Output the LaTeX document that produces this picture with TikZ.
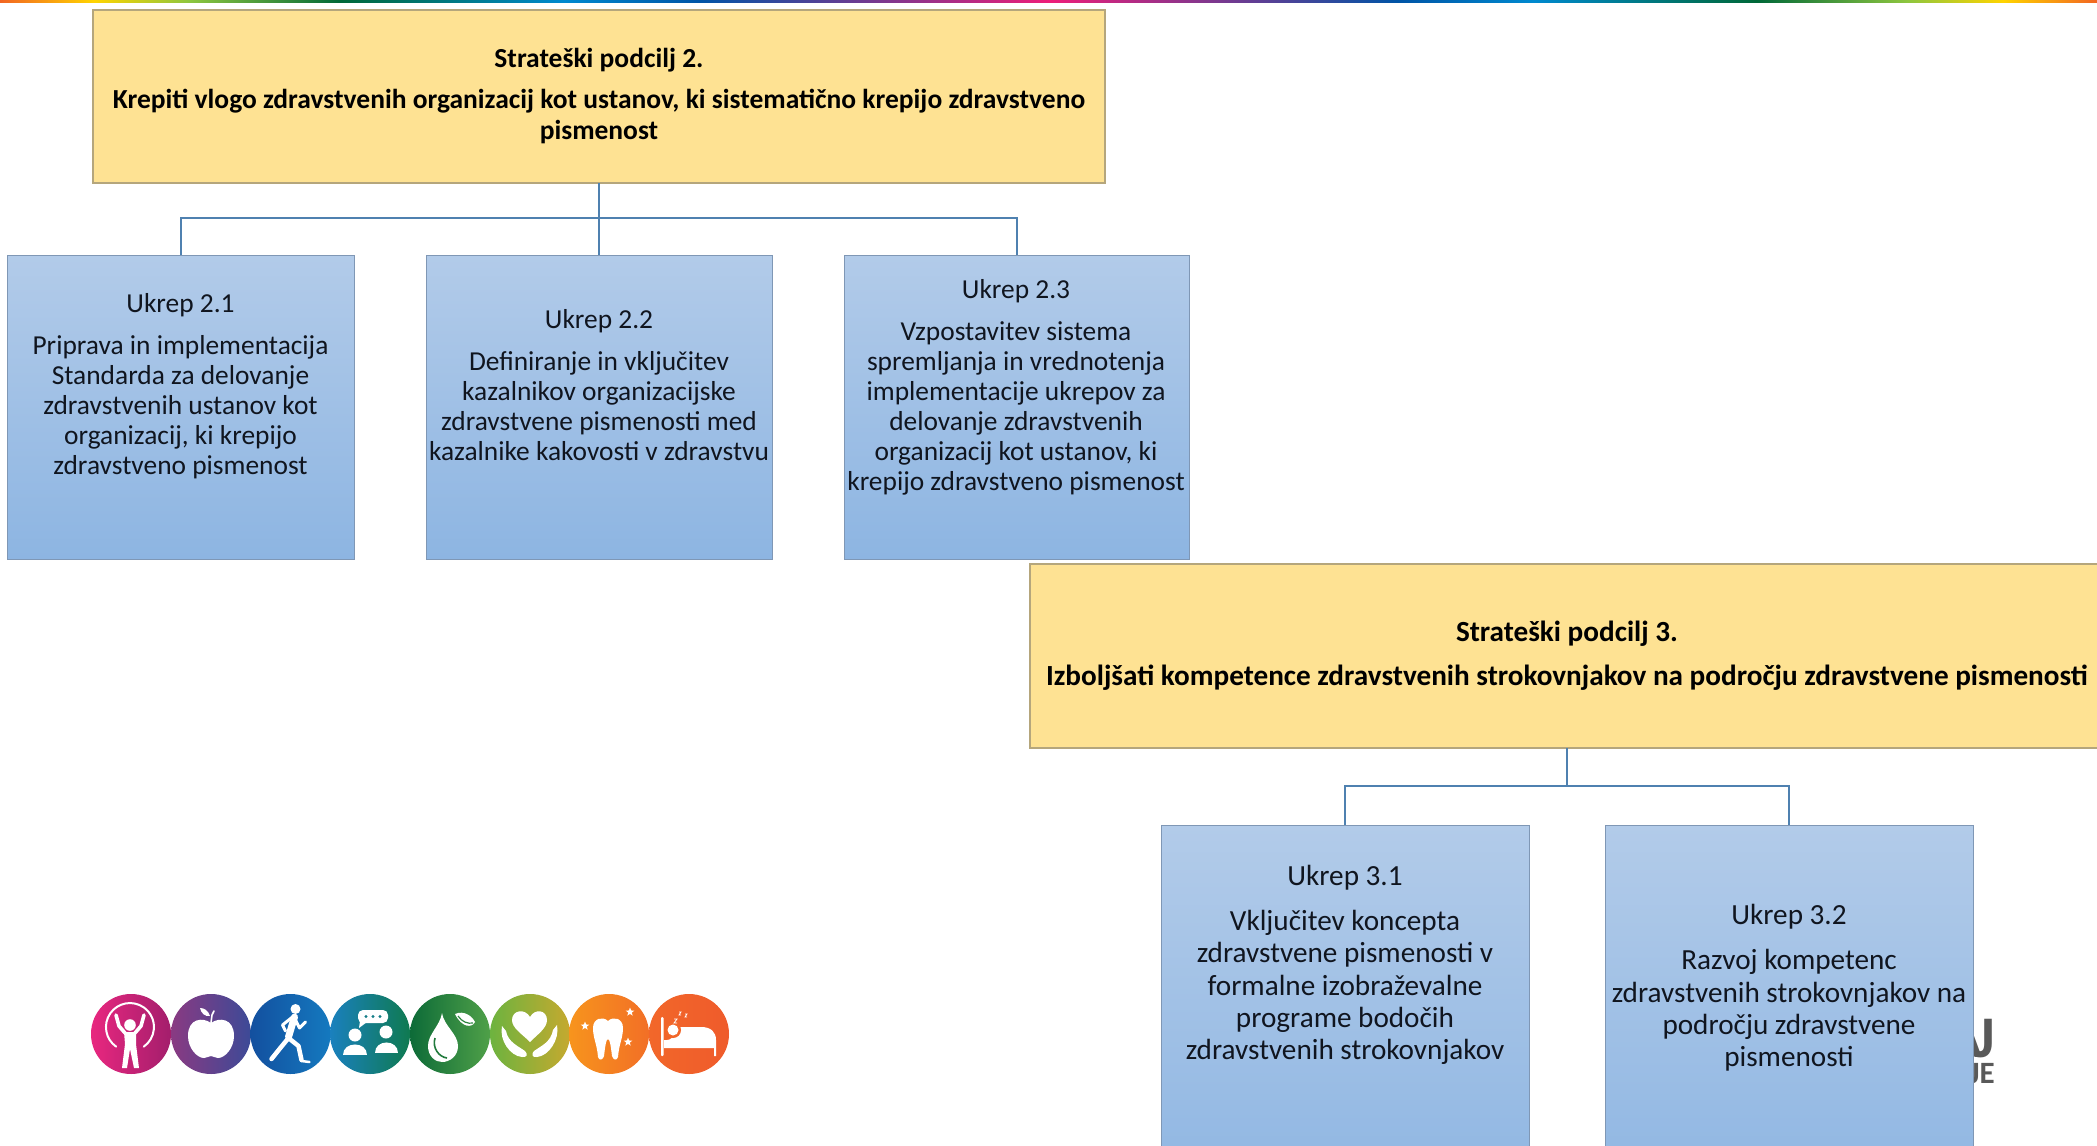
\documentclass[tikz,border=0pt]{standalone}
\usepackage{fontspec}
\setmainfont{Carlito}
\definecolor{yfill}{HTML}{FEE293}
\definecolor{yline}{HTML}{B5A67C}
\definecolor{btop}{HTML}{B2CBE9}
\definecolor{bbot}{HTML}{8DB5E2}
\definecolor{bline}{HTML}{7F97B5}
\definecolor{conn}{HTML}{4F81B0}
\definecolor{txt}{HTML}{10151F}
\tikzset{
  goalbox/.style={draw=yline,line width=1.2pt,fill=yfill,inner sep=0pt,outer sep=0pt,anchor=north west},
  goaltext/.style={align=center,text=black,inner sep=0pt},
  actbox/.style={draw=bline,line width=1pt,top color=btop,bottom color=bbot,inner sep=0pt,outer sep=0pt,anchor=north west},
  acttext/.style={align=center,text=txt,inner sep=0pt,font=\fontsize{27.4}{30}\selectfont},
  acttextb/.style={align=center,text=txt,inner sep=0pt,font=\fontsize{29.2}{32.3}\selectfont},
  connline/.style={draw=conn,line width=2pt},
  logotext/.style={anchor=base east,inner sep=0pt,text=black!65,text depth=0pt},
  ic/.style={white,line width=2pt,line cap=round,line join=round}
}
\newcommand{\istar}[2]{\fill[white,shift={(#1,#2)}] (-90:4.5)--(-54:1.9)--(-18:4.5)--(18:1.9)--(54:4.5)--(90:1.9)--(126:4.5)--(162:1.9)--(198:4.5)--(234:1.9)--cycle;}
\newcommand{\rainbowseg}[4]{\shade[left color=#3,right color=#4] (#1,0) rectangle (#2,2.2);}
\begin{document}
\begin{tikzpicture}[x=1pt,y=-1pt]
\useasboundingbox (0,0) rectangle (2097,1146);
\fill[white] (0,0) rectangle (2097,1146);
% rainbow strip
\definecolor{r1}{HTML}{F26522}\definecolor{r2}{HTML}{FFD400}\definecolor{r3}{HTML}{8DC63F}
\definecolor{r4}{HTML}{006838}\definecolor{r5}{HTML}{0089CF}\definecolor{r6}{HTML}{0054A6}\definecolor{r7}{HTML}{ED1E79}
\rainbowseg{0}{94}{r1}{r2}\rainbowseg{94}{190}{r2}{r3}\rainbowseg{190}{340}{r3}{r4}\rainbowseg{340}{564}{r4}{r5}
\rainbowseg{564}{700}{r5}{r6}\rainbowseg{700}{1049}{r6}{r7}\rainbowseg{1049}{1397}{r7}{r6}\rainbowseg{1397}{1533}{r6}{r5}
\rainbowseg{1533}{1757}{r5}{r4}\rainbowseg{1757}{1907}{r4}{r3}\rainbowseg{1907}{2003}{r3}{r2}\rainbowseg{2003}{2097}{r2}{r1}
% logo fragments behind box 3.2
\node[logotext,font=\fontsize{59}{59}\selectfont\bfseries] (logoa) at (1995,1057) {A\kern-7pt J};
\node[logotext,font=\fontsize{31}{31}\selectfont\bfseries] (logob) at (1995,1083) {JE};
% goal boxes
\node[goalbox,minimum width=1012pt,minimum height=173pt] (g2) at (93,10) {};
\node[goalbox,minimum width=1074pt,minimum height=184pt] (g3) at (1030,564) {};
\node[goaltext,font=\fontsize{27.5}{31}\selectfont\bfseries] (gt2) at (599,96.5)
  {Strateški podcilj 2.\\[10pt]Krepiti vlogo zdravstvenih organizacij kot ustanov, ki sistematično krepijo zdravstveno\\pismenost};
\node[goaltext,font=\fontsize{29.2}{31}\selectfont\bfseries] (gt3) at (1567,656)
  {Strateški podcilj 3.\\[13pt]Izboljšati kompetence zdravstvenih strokovnjakov na področju zdravstvene pismenosti};
% action boxes
\node[actbox,minimum width=347pt,minimum height=304pt] (b21) at (7,255) {};
\node[actbox,minimum width=346pt,minimum height=304pt] (b22) at (426,255) {};
\node[actbox,minimum width=345pt,minimum height=304pt] (b23) at (844,255) {};
\node[actbox,minimum width=368pt,minimum height=390pt] (b31) at (1161,825) {};
\node[actbox,minimum width=368pt,minimum height=390pt] (b32) at (1605,825) {};
% connectors
\coordinate (bus2) at (g2.south |- 0,218);
\coordinate (bus3) at (g3.south |- 0,786);
\draw[connline] (g2.south) -- (bus2);
\draw[connline] (bus2) -| (b21.north);
\draw[connline] (bus2) -- (b22.north);
\draw[connline] (bus2) -| (b23.north);
\draw[connline] (g3.south) -- (bus3);
\draw[connline] (bus3) -| (b31.north);
\draw[connline] (bus3) -| (b32.north);
% action texts
\node[acttext] (t21) at (180.5,386.5) {Ukrep 2.1\\[12pt]Priprava in implementacija\\Standarda za delovanje\\zdravstvenih ustanov kot\\organizacij, ki krepijo\\zdravstveno pismenost};
\node[acttext] (t22) at (599,385.5) {Ukrep 2.2\\[12pt]Definiranje in vključitev\\kazalnikov organizacijske\\zdravstvene pismenosti med\\kazalnike kakovosti v zdravstvu};
\node[acttext] (t23) at (1016,387.5) {Ukrep 2.3\\[12pt]Vzpostavitev sistema\\spremljanja in vrednotenja\\implementacije ukrepov za\\delovanje zdravstvenih\\organizacij kot ustanov, ki\\krepijo zdravstveno pismenost};
\node[acttextb] (t31) at (1345,965) {Ukrep 3.1\\[13pt]Vključitev koncepta\\zdravstvene pismenosti v\\formalne izobraževalne\\programe bodočih\\zdravstvenih strokovnjakov};
\node[acttextb] (t32) at (1789,988) {Ukrep 3.2\\[13pt]Razvoj kompetenc\\zdravstvenih strokovnjakov na\\področju zdravstvene\\pismenosti};
% icon discs
\definecolor{c1a}{HTML}{E8277F}\definecolor{c1b}{HTML}{A31E6C}
\definecolor{c2a}{HTML}{8A3A82}\definecolor{c2b}{HTML}{3C4A97}
\definecolor{c3a}{HTML}{13509F}\definecolor{c3b}{HTML}{1479BF}
\definecolor{c4a}{HTML}{1A80BE}\definecolor{c4b}{HTML}{0F7A50}
\definecolor{c5a}{HTML}{0D6B38}\definecolor{c5b}{HTML}{4FA048}
\definecolor{c6a}{HTML}{6DB33F}\definecolor{c6b}{HTML}{C5A92F}
\definecolor{c7a}{HTML}{F7941D}\definecolor{c7b}{HTML}{F26F26}
\definecolor{c8a}{HTML}{F2672A}\definecolor{c8b}{HTML}{EF5B2B}
\shade[left color=c1a,right color=c1b] (131,1034) circle (40);
\shade[left color=c2a,right color=c2b] (211,1034) circle (40);
\shade[left color=c3a,right color=c3b] (290.5,1034) circle (40);
\shade[left color=c4a,right color=c4b] (370,1034) circle (40);
\shade[left color=c5a,right color=c5b] (450,1034) circle (40);
\shade[left color=c6a,right color=c6b] (530,1034) circle (40);
\shade[left color=c7a,right color=c7b] (609,1034) circle (40);
\shade[left color=c8a,right color=c8b] (689,1034) circle (40);
% icon 1: figure with ring
\begin{scope}[shift={(131,1034)}]
\draw[ic] (-14.8,12.7) arc[start angle=125,end angle=415,radius=24];
\draw[ic,line width=3.6pt] (-15,-19) -- (-12,-8) -- (-6,-1);
\draw[ic,line width=3.6pt] (13,-19) -- (10,-8) -- (4,-1);
\fill[white] (-1,-9) circle (5.8);
\fill[white] (-7,-2)--(5,-2)--(5,10)--(8,34)--(3,34)--(-1,15)--(-4,34)--(-9,34)--(-6,10)--cycle;
\end{scope}
% icon 2: apple
\begin{scope}[shift={(211,1034)}]
\fill[white] (0,-11) .. controls (8,-17) and (23,-16) .. (23,2) .. controls (23,14) and (14,24) .. (7,24) .. controls (4,24) and (2,22) .. (0,22) .. controls (-2,22) and (-4,24) .. (-7,24) .. controls (-14,24) and (-23,14) .. (-23,2) .. controls (-23,-16) and (-8,-17) .. (0,-11) -- cycle;
\draw[ic,line width=1.6pt] (0,-11) -- (1,-19) -- (3,-23);
\fill[white] (-1,-18) .. controls (-3,-24) and (-7,-26) .. (-11,-26) .. controls (-10,-21) and (-6,-17) .. (-1,-18) -- cycle;
\end{scope}
% icon 3: runner
\begin{scope}[shift={(290.5,1034)}]
\fill[white] (5,-25) circle (5);
\draw[ic,line width=7pt] (4,-17) -- (-2,3);
\draw[ic,line width=3pt] (2,-17) -- (-8,-9) -- (-5,-3);
\draw[ic,line width=3pt] (4,-16) -- (9,-6) -- (15,-12);
\draw[ic,line width=4.5pt] (-2,4) -- (-11,15) -- (-19,25);
\draw[ic,line width=4.5pt] (-2,4) -- (8,12) -- (11,26);
\draw[ic,line width=2.5pt] (11,27) -- (19,28);
\end{scope}
% icon 4: people talking
\begin{scope}[shift={(370,1034)}]
\fill[white,rounded corners=5pt] (-12,-24) rectangle (18,-11);
\fill[white] (-10,-13)--(-11,-6)--(-3,-12)--cycle;
\fill[c4b!50!c4a] (-4,-17.5) circle (1.7) (3,-17.5) circle (1.7) (10,-17.5) circle (1.7);
\fill[white] (-15,1) circle (6.5) (16,-2) circle (6.5);
\fill[white] (-27,21) .. controls (-27,7) and (-3,7) .. (-3,21) -- cycle;
\fill[white] (5,19) .. controls (5,5) and (28,5) .. (28,19) -- cycle;
\end{scope}
% icon 5: drop and leaf
\begin{scope}[shift={(450,1034)}]
\fill[white] (-8,-21) .. controls (-10,-8) and (-22,0) .. (-22,12) .. controls (-22,22) and (-15,28) .. (-8,28) .. controls (0,28) and (8,22) .. (8,12) .. controls (8,0) and (-6,-8) .. (-8,-21) -- cycle;
\draw[c5a!70!c5b,line width=1.6pt] (-15,4) .. controls (-18,14) and (-11,23) .. (-3,24);
\fill[white] (5,-20) .. controls (14,-24) and (22,-18) .. (25,-12) .. controls (22,-6) and (12,-6) .. (5,-20) -- cycle;
\draw[c5a!50!c5b,line width=1.2pt] (8,-18) .. controls (12,-12) and (18,-10) .. (23,-11);
\end{scope}
% icon 6: hands and heart
\begin{scope}[shift={(530,1034)}]
\fill[white] (0,8) .. controls (-8,0) and (-18,-6) .. (-18,-14) .. controls (-18,-24) and (-5,-26) .. (0,-17) .. controls (5,-26) and (17,-24) .. (17,-14) .. controls (17,-6) and (8,0) .. (0,8) -- cycle;
\fill[white] (-28,-8) .. controls (-31,6) and (-20,22) .. (-8,23) .. controls (-3,24) and (-2,20) .. (-5,17) .. controls (-12,12) and (-22,8) .. (-24,-3) -- cycle;
\fill[white] (27,-9) .. controls (30,5) and (19,22) .. (7,23) .. controls (2,24) and (1,20) .. (4,17) .. controls (11,12) and (21,8) .. (23,-4) -- cycle;
\end{scope}
% icon 7: tooth and stars
\begin{scope}[shift={(609,1034)}]
\fill[white] (-16,-6) .. controls (-16,-16) and (-6,-18) .. (-1,-13) .. controls (4,-18) and (14,-16) .. (14,-6) .. controls (14,4) and (10,10) .. (9,23) .. controls (8,27) and (4,26) .. (3,22) .. controls (2,14) and (1,5) .. (-1,5) .. controls (-3,5) and (-4,14) .. (-5,22) .. controls (-6,26) and (-10,27) .. (-11,23) .. controls (-12,10) and (-16,4) .. (-16,-6) -- cycle;
\istar{21}{-22}\istar{-24}{-8}\istar{19}{8}
\end{scope}
% icon 8: bed
\begin{scope}[shift={(689,1034)}]
\fill[white,rounded corners=1pt] (-28,-17) rectangle (-25.5,22);
\fill[white] (-25,6) -- (-22,6) .. controls (-14,6) and (-14,-7) .. (-8,-7) -- (12,-7) .. controls (22,-7) and (27,-2) .. (27,6) -- (27,22) -- (25,22) -- (25,14) -- (-25,14) -- cycle;
\fill[c8a] (-16,-4) circle (8);
\fill[white] (-16,-4) circle (5.5);
\draw[white,line width=.8pt] (-15,-15)--(-12,-15)--(-15,-11)--(-12,-11);
\draw[white,line width=.8pt] (-10,-22)--(-8,-22)--(-10,-19)--(-8,-19);
\draw[white,line width=.8pt] (-4,-20)--(-2,-20)--(-4,-17)--(-2,-17);
\end{scope}
\end{tikzpicture}
\end{document}
